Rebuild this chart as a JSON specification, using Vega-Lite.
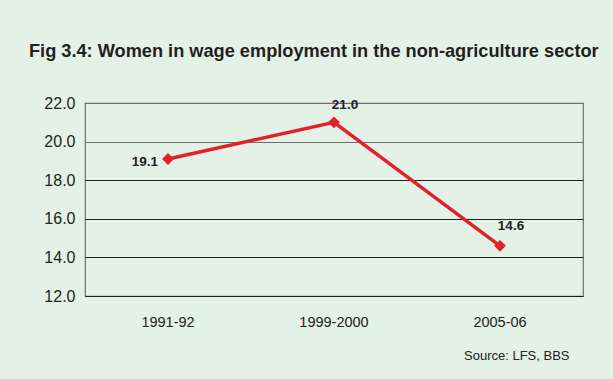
{
  "$schema": "https://vega.github.io/schema/vega-lite/v6.json",
  "autosize": "none",
  "width": 498,
  "height": 193,
  "padding": {"left": 85, "top": 103, "right": 30, "bottom": 83},
  "background": "#e4f1e7",
  "title": {
    "text": "Fig 3.4: Women in wage employment in the non-agriculture sector",
    "anchor": "start",
    "frame": "group",
    "dx": -56,
    "offset": 34,
    "font": "Liberation Sans",
    "fontSize": 18.2,
    "fontWeight": "bold",
    "color": "#1f1f1f"
  },
  "data": {
    "values": [
      {"period": "1991-92", "value": 19.1, "label": "19.1"},
      {"period": "1999-2000", "value": 21.0, "label": "21.0"},
      {"period": "2005-06", "value": 14.6, "label": "14.6"}
    ]
  },
  "encoding": {
    "x": {
      "field": "period",
      "type": "nominal",
      "sort": null,
      "scale": {"type": "band", "paddingInner": 0, "paddingOuter": 0},
      "axis": {
        "title": "Source: LFS, BBS",
        "titleAnchor": "end",
        "titleAlign": "right",
        "titleX": 484,
        "titleY": 59,
        "titleBaseline": "middle",
        "titleFontWeight": "normal",
        "titleFontSize": 13,
        "titleFont": "Liberation Sans",
        "titleColor": "#222",
        "labelAngle": 0,
        "labelFont": "Liberation Sans",
        "labelFontSize": 14.5,
        "labelColor": "#222",
        "labelPadding": 19,
        "labelDx": -8,
        "ticks": false,
        "domain": false,
        "grid": false
      }
    },
    "y": {
      "field": "value",
      "type": "quantitative",
      "scale": {"domain": [12, 22], "nice": false, "zero": false},
      "axis": {
        "title": null,
        "values": [12, 14, 16, 18, 20, 22],
        "format": ".1f",
        "labelFont": "Liberation Sans",
        "labelFontSize": 16,
        "labelColor": "#222",
        "labelPadding": 10,
        "ticks": false,
        "domain": false,
        "grid": true,
        "gridColor": {"condition": {"test": "datum.value >= 20", "value": "#6e6e6e"}, "value": "#1e1e1e"},
        "gridWidth": 1.2,
        "gridOpacity": 1
      }
    }
  },
  "layer": [
    {
      "mark": {"type": "line", "color": "#e1222b", "strokeWidth": 3.5}
    },
    {
      "mark": {"type": "point", "shape": "diamond", "filled": true, "color": "#e1222b", "size": 140, "opacity": 1}
    },
    {
      "transform": [{"filter": "datum.period == '1991-92'"}],
      "mark": {"type": "text", "align": "right", "baseline": "middle", "dx": -10, "dy": 3, "font": "Liberation Sans", "fontSize": 13.5, "fontWeight": "bold", "color": "#222"},
      "encoding": {"text": {"field": "label"}}
    },
    {
      "transform": [{"filter": "datum.period == '1999-2000'"}],
      "mark": {"type": "text", "align": "center", "baseline": "middle", "dx": 11, "dy": -17, "font": "Liberation Sans", "fontSize": 13.5, "fontWeight": "bold", "color": "#222"},
      "encoding": {"text": {"field": "label"}}
    },
    {
      "transform": [{"filter": "datum.period == '2005-06'"}],
      "mark": {"type": "text", "align": "center", "baseline": "middle", "dx": 11, "dy": -20, "font": "Liberation Sans", "fontSize": 13.5, "fontWeight": "bold", "color": "#222"},
      "encoding": {"text": {"field": "label"}}
    }
  ],
  "config": {
    "view": {"stroke": "#6e6e6e", "strokeWidth": 1.2}
  }
}
